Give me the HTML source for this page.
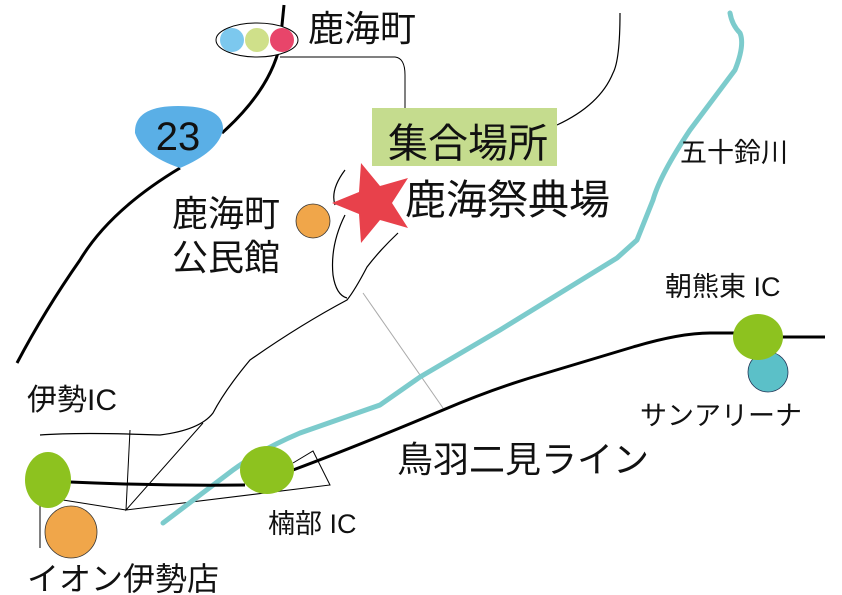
<!DOCTYPE html>
<html><head><meta charset="utf-8"><style>
html,body{margin:0;padding:0;background:#fff;width:842px;height:595px;overflow:hidden}
svg{display:block}
text{font-family:"Liberation Sans","Noto Sans CJK JP",sans-serif;fill:#111}
</style></head><body>
<svg width="842" height="595" viewBox="0 0 842 595" xmlns="http://www.w3.org/2000/svg">
<!-- road 23 -->
<path d="M284,5 L280,45 Q270,90 222,133" fill="none" stroke="#000" stroke-width="3"/>
<path d="M180,168 Q110,210 80,260 Q45,310 17,363" fill="none" stroke="#000" stroke-width="3"/>
<!-- thin roads -->
<path d="M280,57 L395,57 Q405,58 405,75 L405,110" fill="none" stroke="#000" stroke-width="1"/>
<path d="M620,13 Q620,60 613,73 Q600,105 557,125" fill="none" stroke="#000" stroke-width="1.2"/>
<path d="M345,170 Q330,190 335,205 M345,215 Q330,245 333,275 Q336,295 347,298 M398,233 Q380,250 367,267 Q355,290 347,300 Q300,325 250,360 Q225,390 213,413 Q200,430 160,435 Q80,432 40,435" fill="none" stroke="#000" stroke-width="1.2"/>
<line x1="363" y1="293" x2="443" y2="408" stroke="#aaa" stroke-width="1"/>
<path d="M130,430 L126,510 L203,423 M126,510 L63,500 M126,510 L330,485 L313,451 L293,463" fill="none" stroke="#000" stroke-width="1"/>
<line x1="40" y1="505" x2="40" y2="548" stroke="#000" stroke-width="1"/>
<!-- river -->
<path d="M730,13 Q732,25 740,33 Q745,45 735,70 L690,130 Q660,175 653,200 L637,240 L617,258 L500,330 L420,377 L380,405 L300,433 Q260,450 233,470 L163,523" fill="none" stroke="#7ccbcc" stroke-width="5" stroke-linejoin="round" stroke-linecap="round"/>
<!-- highway -->
<path d="M70,482 Q160,486 245,485 M293,470 Q360,445 443,410 Q490,390 533,377 Q590,360 633,347 Q680,333 710,333 L760,333 M780,337 L825,337" fill="none" stroke="#000" stroke-width="3"/>
<!-- ellipse signal -->
<ellipse cx="257" cy="40" rx="41" ry="17" fill="#fff" stroke="#000" stroke-width="1"/>
<circle cx="232" cy="40" r="12" fill="#7cc8ee"/>
<circle cx="257" cy="40" r="12" fill="#cfe08a"/>
<circle cx="282" cy="40" r="12" fill="#e8456a"/>
<!-- badge 23 -->
<path d="M180,168 Q142,155 135,133 Q134,106 178,106 Q224,106 223,130 Q218,152 180,168 Z" fill="#5aafe6"/>
<text x="178" y="150" font-size="40" text-anchor="middle">23</text>
<!-- green box -->
<rect x="372" y="108" width="185" height="58" fill="#c5dc8e"/>
<text x="388" y="157" font-size="40">集合場所</text>
<!-- star -->
<polygon points="361,163 380,186 408,178 392,203 408,228 380,220 361,243 359,214 332,203 359,192" fill="#e8414b"/>
<text x="405" y="214" font-size="41">鹿海祭典場</text>
<text x="308" y="41" font-size="36">鹿海町</text>
<text x="172" y="226" font-size="36">鹿海町</text>
<text x="172" y="270" font-size="36">公民館</text>
<circle cx="313" cy="221" r="17" fill="#f0a64a" stroke="#333" stroke-width="0.8"/>
<!-- ICs -->
<ellipse cx="48" cy="480" rx="23" ry="28" fill="#8dc21f"/>
<ellipse cx="267" cy="470" rx="27" ry="24" fill="#8dc21f"/>
<circle cx="71" cy="532" r="26" fill="#f0a64a" stroke="#333" stroke-width="0.8"/>
<circle cx="768" cy="372" r="20" fill="#5bc0c8" stroke="#235" stroke-width="0.8"/>
<ellipse cx="758" cy="337" rx="25" ry="23" fill="#8dc21f"/>
<text x="680" y="162" font-size="27">五十鈴川</text>
<text x="665" y="296" font-size="27">朝熊東 IC</text>
<text x="640" y="425" font-size="27">サンアリーナ</text>
<text x="397" y="472" font-size="36">鳥羽二見ライン</text>
<text x="268" y="533" font-size="27">楠部 IC</text>
<text x="27" y="410" font-size="30">伊勢IC</text>
<text x="27" y="590" font-size="32">イオン伊勢店</text>
</svg>
</body></html>
